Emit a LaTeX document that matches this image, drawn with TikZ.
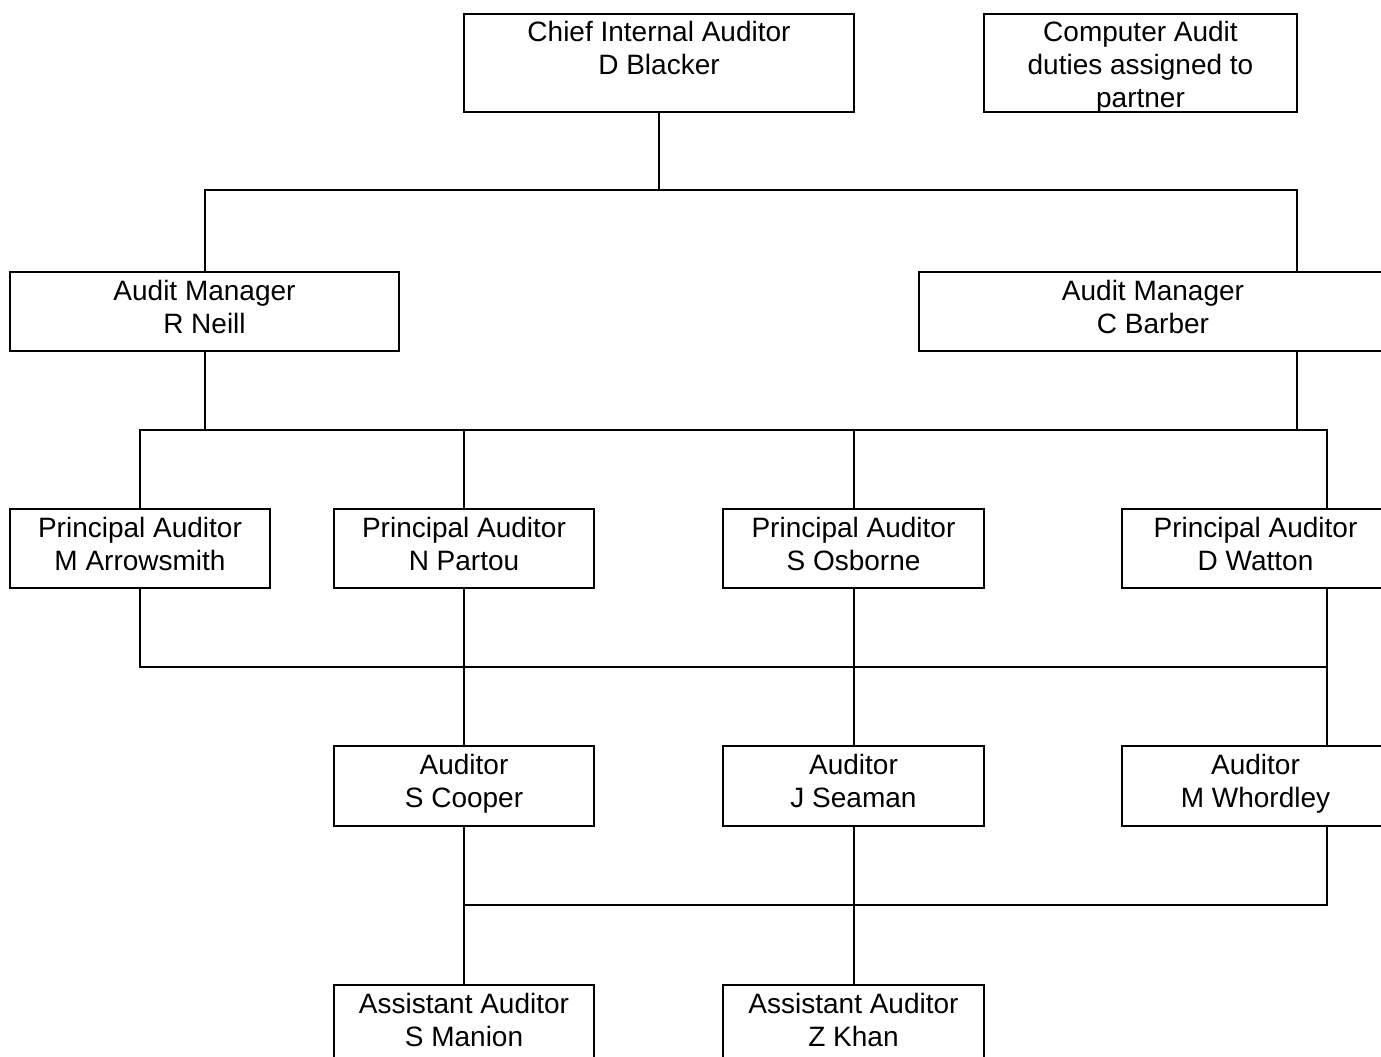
\documentclass[tikz,border=0pt]{standalone}
\usepackage{fontspec}
\setmainfont{Liberation Sans}
\newcommand{\bxt}[3]{\parbox[c][#2pt][t]{#1pt}{\centering\rule{0pt}{28pt}#3}}
\begin{document}
\begin{tikzpicture}[x=1pt,y=-1pt,
  box/.style={draw, line width=2pt, inner sep=0pt, outer sep=0pt, anchor=north west,
    font=\fontsize{28}{33}\selectfont},
  conn/.style={line width=2pt}]
\useasboundingbox (0,0) rectangle (1381,1057);
\clip (0,0) rectangle (1381,1057);
% boxes
\node[box] (chief) at (464,14) {\bxt{390}{98}{Chief Internal Auditor\\D Blacker}};
\node[box] (comp) at (984,14) {\bxt{313}{98}{Computer Audit\\duties assigned to\\partner}};
\node[box] (neill) at (10,272) {\bxt{389}{79}{Audit Manager\\R Neill}};
\node[box] (barber) at (919,272) {\bxt{468}{79}{Audit Manager\\C Barber}};
\node[box] (arrow) at (10,509) {\bxt{260}{79}{Principal Auditor\\M Arrowsmith}};
\node[box] (partou) at (334,509) {\bxt{260}{79}{Principal Auditor\\N Partou}};
\node[box] (osb) at (723,509) {\bxt{261}{79}{Principal Auditor\\S Osborne}};
\node[box] (watton) at (1122,509) {\bxt{267}{79}{Principal Auditor\\D Watton}};
\node[box] (cooper) at (334,746) {\bxt{260}{80}{Auditor\\S Cooper}};
\node[box] (seaman) at (723,746) {\bxt{261}{80}{Auditor\\J Seaman}};
\node[box] (whord) at (1122,746) {\bxt{267}{80}{Auditor\\M Whordley}};
\node[box] (manion) at (334,985) {\bxt{260}{80}{Assistant Auditor\\S Manion}};
\node[box] (khan) at (723,985) {\bxt{261}{80}{Assistant Auditor\\Z Khan}};
% junctions
\coordinate (j1) at (659,190);
\coordinate (bT) at (1297,272);
\coordinate (bB) at (1297,351);
\coordinate (j2) at (1327,430);
\coordinate (wT) at (1327,509);
\coordinate (wB) at (1327,588);
\coordinate (j3) at (1327,667);
\coordinate (whT) at (1327,746);
\coordinate (whB) at (1327,826);
\coordinate (j4) at (1327,905);
% connectors
\draw[conn] (chief.south) -- (j1);
\draw[conn] (neill.north) |- (j1) -| (bT);
\draw[conn] (neill.south) -- (neill.south |- j2);
\draw[conn] (bB) -- (bB |- j2);
\draw[conn] (arrow.north) |- (j2) -- (wT);
\draw[conn] (partou.north) -- (partou.north |- j2);
\draw[conn] (osb.north) -- (osb.north |- j2);
\draw[conn] (arrow.south) |- (j3);
\draw[conn] (wB) -- (whT);
\draw[conn] (partou.south) -- (cooper.north);
\draw[conn] (osb.south) -- (seaman.north);
\draw[conn] (whB) -- (j4) -- (cooper.south |- j4);
\draw[conn] (cooper.south) -- (manion.north);
\draw[conn] (seaman.south) -- (khan.north);
\end{tikzpicture}
\end{document}
